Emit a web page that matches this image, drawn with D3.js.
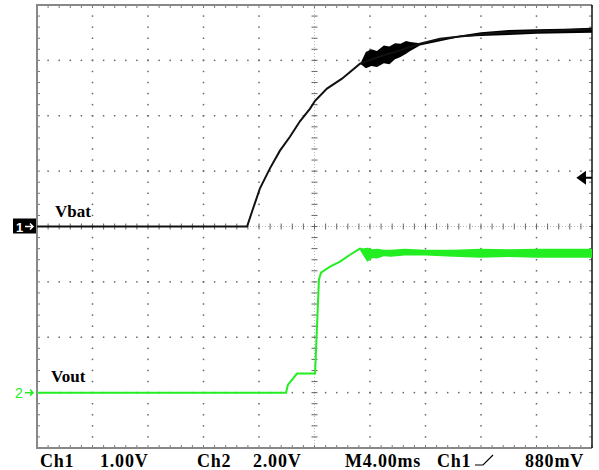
<!DOCTYPE html>
<html>
<head>
<meta charset="utf-8">
<script src="https://cdn.jsdelivr.net/npm/d3@7"></script>
<style>
  body { margin: 0; background: #fff; }
  svg { display: block; }
</style>
</head>
<body>
<div id="graf"></div>
<script>
const vbatT = [0, 15.14, 15.5, 16.07, 16.79, 17.51, 18.23, 18.95, 19.68, 20.04, 20.9, 21.98, 23.28, 24.72, 26.16, 27.6, 29.05, 30.49, 32.07, 33.37, 36.04, 40]
const vbatV = [0, 0, 0.27, 0.69, 1.05, 1.37, 1.62, 1.9, 2.13, 2.27, 2.49, 2.67, 2.94, 3.07, 3.18, 3.3, 3.39, 3.43, 3.47, 3.5, 3.52, 3.56]

// ruido de Vbat (envolvente)
const vbatNoiseT = [23.3, 23.7, 24.1, 24.5, 25.0, 25.4, 25.8, 26.2, 26.6, 26.9, 27.6, 30.5, 32.0, 34.0, 36.0, 38.0, 40.0]
const vbatNoiseHi = [2.94, 3.15, 3.2, 3.17, 3.27, 3.25, 3.31, 3.3, 3.35, 3.33, 3.31, 3.45, 3.51, 3.55, 3.56, 3.57, 3.59]
const vbatNoiseLo = [2.94, 2.86, 2.9, 2.88, 2.95, 2.93, 3.02, 3.06, 3.12, 3.17, 3.27, 3.42, 3.44, 3.46, 3.48, 3.49, 3.5]

const voutT = [0, 17.95, 18.09, 18.74, 20.04, 20.11, 20.18, 20.25, 20.32, 20.47, 21.12, 21.84, 22.56, 23.28, 24.0, 26.16, 29.05, 33.37, 40]
const voutV = [0, 0, 0.29, 0.69, 0.69, 1.55, 2.38, 3.25, 4.08, 4.33, 4.55, 4.73, 4.98, 5.2, 5.09, 5.09, 5.05, 5.02, 5.02]

const voutNoiseT = [23.3, 23.8, 24.2, 24.5, 25.0, 25.5, 26.5, 28, 30, 32, 34, 36, 38, 40]
const voutNoiseHi = [5.19, 5.23, 5.18, 5.2, 5.16, 5.16, 5.2, 5.16, 5.16, 5.2, 5.18, 5.2, 5.2, 5.2]
const voutNoiseLo = [5.12, 4.73, 4.86, 4.84, 4.93, 4.91, 4.95, 4.95, 4.91, 4.87, 4.9, 4.87, 4.87, 4.87]

// textos de la barra inferior
const statusTexts = ['Ch1', '1.00V', 'Ch2', '2.00V', 'M4.00ms', 'Ch1', '880mV']
const statusX = [40, 100, 197, 253, 345, 437, 525]

const trigLevel = 0.88 // V en Ch1

const anchoTotal = 599
const altoTotal = 470

const svg = d3.select('#graf')
  .append('svg')
  .attr('width', anchoTotal)
  .attr('height', altoTotal)

const pIzq = 37, pDer = 592, pArr = 5, pAba = 448

// escalas: 10 div x 4ms, 8 div; Ch1 1V/div centrado, Ch2 2V/div con tierra a -3 div
const x = d3.scaleLinear().domain([0, 40]).range([pIzq, pDer])
const y1 = d3.scaleLinear().domain([-4, 4]).range([pAba, pArr])
const y2 = d3.scaleLinear().domain([-2, 14]).range([pAba, pArr])

const g = svg.append('g')

// reticula punteada
const majorX = d3.range(4, 40, 4)
const majorY = d3.range(-3, 4, 1)
const minorX = d3.range(0, 40.01, 0.8)
const minorY = d3.range(-4, 4.01, 0.2)

majorX.filter(d => d !== 20).forEach(mx => {
  g.selectAll(null)
    .data(minorY)
    .enter()
    .append('rect')
    .attr('x', x(mx) - 0.75)
    .attr('y', d => y1(d) - 0.75)
    .attr('width', 1.5)
    .attr('height', 1.5)
    .attr('fill', '#666')
})

majorY.filter(d => d !== 0).forEach(my => {
  g.selectAll(null)
    .data(minorX)
    .enter()
    .append('rect')
    .attr('x', d => x(d) - 0.75)
    .attr('y', y1(my) - 0.75)
    .attr('width', 1.5)
    .attr('height', 1.5)
    .attr('fill', '#666')
})

// ejes centrales con marcas
g.append('line')
  .attr('x1', pIzq).attr('x2', pDer)
  .attr('y1', y1(0)).attr('y2', y1(0))
  .attr('stroke', '#bbb')
  .attr('stroke-dasharray', '1,2')

g.append('line')
  .attr('x1', x(20)).attr('x2', x(20))
  .attr('y1', pArr).attr('y2', pAba)
  .attr('stroke', '#bbb')
  .attr('stroke-dasharray', '1,2')

g.selectAll('.tickH')
  .data(minorX)
  .enter()
  .append('line')
  .attr('x1', d => x(d)).attr('x2', d => x(d))
  .attr('y1', y1(0) - 3).attr('y2', y1(0) + 3)
  .attr('stroke', '#666')

g.selectAll('.tickV')
  .data(minorY)
  .enter()
  .append('line')
  .attr('x1', x(20) - 3).attr('x2', x(20) + 3)
  .attr('y1', d => y1(d)).attr('y2', d => y1(d))
  .attr('stroke', '#666')

// marcas del borde
g.selectAll('.tickTop')
  .data(minorX)
  .enter()
  .append('line')
  .attr('x1', d => x(d)).attr('x2', d => x(d))
  .attr('y1', pArr).attr('y2', pArr + 3)
  .attr('stroke', '#777')

g.selectAll('.tickBot')
  .data(minorX)
  .enter()
  .append('line')
  .attr('x1', d => x(d)).attr('x2', d => x(d))
  .attr('y1', pAba).attr('y2', pAba - 3)
  .attr('stroke', '#777')

g.selectAll('.tickLeft')
  .data(minorY)
  .enter()
  .append('line')
  .attr('x1', pIzq).attr('x2', pIzq + 3)
  .attr('y1', d => y1(d)).attr('y2', d => y1(d))
  .attr('stroke', '#777')

g.selectAll('.tickRight')
  .data(minorY)
  .enter()
  .append('line')
  .attr('x1', pDer).attr('x2', pDer - 3)
  .attr('y1', d => y1(d)).attr('y2', d => y1(d))
  .attr('stroke', '#777')

// borde
g.append('path')
  .attr('d', `M${pDer},${pArr}H${pIzq}V${pAba}H${pDer}`)
  .attr('fill', 'none')
  .attr('stroke', '#888')
  .attr('stroke-width', 2)

g.append('line')
  .attr('x1', pDer).attr('x2', pDer)
  .attr('y1', pArr).attr('y2', pAba)
  .attr('stroke', '#111')
  .attr('stroke-width', 1.5)

// trazas
const lineVbat = d3.line().x((d, i) => x(vbatT[i])).y(d => y1(d))
const lineVout = d3.line().x((d, i) => x(voutT[i])).y(d => y2(d))

const areaVbat = d3.area()
  .x((d, i) => x(vbatNoiseT[i]))
  .y0((d, i) => y1(vbatNoiseLo[i]))
  .y1(d => y1(d))

const areaVout = d3.area()
  .x((d, i) => x(voutNoiseT[i]))
  .y0((d, i) => y2(voutNoiseLo[i]))
  .y1(d => y2(d))

g.append('path')
  .datum(voutNoiseHi)
  .attr('d', areaVout)
  .attr('fill', '#22ee22')

g.append('path')
  .datum(voutV)
  .attr('d', lineVout)
  .attr('fill', 'none')
  .attr('stroke', '#22ee22')
  .attr('stroke-width', 2)

g.append('path')
  .datum(vbatNoiseHi)
  .attr('d', areaVbat)
  .attr('fill', '#000')

g.append('path')
  .datum(vbatV)
  .attr('d', lineVbat)
  .attr('fill', 'none')
  .attr('stroke', '#111')
  .attr('stroke-width', 2)

// etiquetas de canal
g.append('text')
  .attr('x', 55).attr('y', 217)
  .attr('font-family', 'Liberation Serif')
  .attr('font-weight', 'bold')
  .attr('font-size', 17)
  .text('Vbat')

g.append('text')
  .attr('x', 51).attr('y', 382)
  .attr('font-family', 'Liberation Serif')
  .attr('font-weight', 'bold')
  .attr('font-size', 17)
  .text('Vout')

// marcador canal 1
g.append('rect')
  .attr('x', 13).attr('y', y1(0) - 8)
  .attr('width', 23).attr('height', 15)
  .attr('fill', '#000')

g.append('text')
  .attr('x', 16).attr('y', y1(0) + 5)
  .attr('font-family', 'Liberation Sans')
  .attr('font-weight', 'bold')
  .attr('font-size', 13)
  .attr('fill', '#fff')
  .text('1')

g.append('path')
  .attr('d', `M25,${y1(0)}H33M30,${y1(0) - 3}L33,${y1(0)}L30,${y1(0) + 3}`)
  .attr('fill', 'none')
  .attr('stroke', '#fff')
  .attr('stroke-width', 1.5)

// marcador canal 2
g.append('text')
  .attr('x', 15).attr('y', y2(0) + 5)
  .attr('font-family', 'Liberation Sans')
  .attr('font-size', 14)
  .attr('fill', '#22ee22')
  .text('2')

g.append('path')
  .attr('d', `M25,${y2(0)}H33M30,${y2(0) - 3}L33,${y2(0)}L30,${y2(0) + 3}`)
  .attr('fill', 'none')
  .attr('stroke', '#22ee22')
  .attr('stroke-width', 1.5)

// nivel de disparo
g.append('path')
  .attr('d', `M${pDer - 14},${y1(trigLevel)}l7,-5v10z M${pDer - 8},${y1(trigLevel)}H${pDer}`)
  .attr('fill', '#000')
  .attr('stroke', '#000')
  .attr('stroke-width', 2)

// barra de estado
g.selectAll('.status')
  .data(statusTexts)
  .enter()
  .append('text')
  .attr('x', (d, i) => statusX[i])
  .attr('y', 467)
  .attr('font-family', 'Liberation Serif')
  .attr('font-weight', 'bold')
  .attr('font-size', 18)
  .attr('letter-spacing', 0.8)
  .text(d => d)

// simbolo de flanco
g.append('path')
  .attr('d', 'M475,465H483L493,455')
  .attr('fill', 'none')
  .attr('stroke', '#000')
  .attr('stroke-width', 1.2)
</script>
</body>
</html>
